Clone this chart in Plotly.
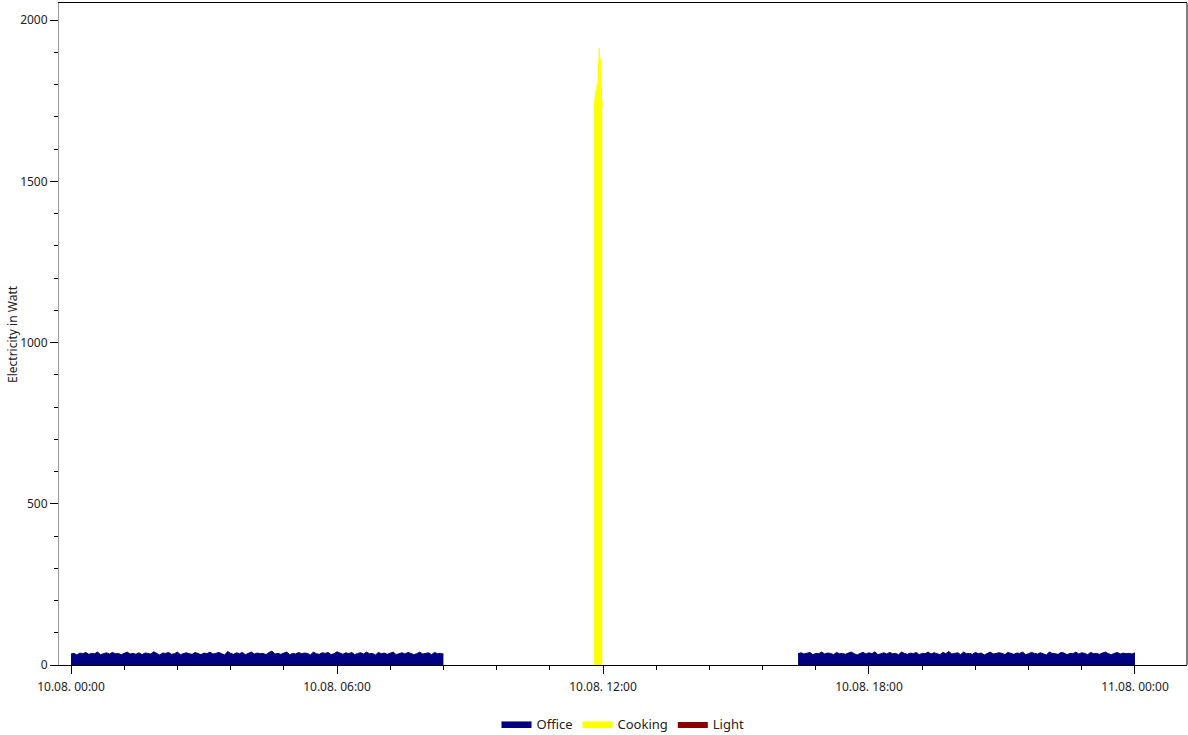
import pandas as pd
import plotly.graph_objects as go

# ---------------- data ----------------
office_block1_start = "2023-08-10 00:00"
office_block1_values = [
    34, 36, 31, 37, 35, 39, 33, 36, 35, 40, 32, 36, 38, 34, 39, 35,
    36, 32, 37, 40, 34, 36, 33, 38, 32, 37, 36, 34, 41, 35, 31, 37,
    36, 39, 33, 35, 40, 32, 36, 38, 35, 33, 39, 36, 32, 37, 35, 40,
    34, 36, 39, 35, 31, 42, 36, 33, 38, 35, 39, 32, 36, 40, 34, 37,
    35, 36, 32, 39, 43, 34, 36, 33, 37, 40, 32, 36, 34, 39, 35, 37,
    36, 31, 40, 35, 33, 38, 36, 39, 32, 35, 41, 36, 33, 38, 35, 39,
    32, 36, 38, 34, 40, 35, 36, 31, 39, 35, 37, 33, 36, 40, 32, 35,
    38, 34, 39, 36, 32, 35, 40, 34, 36, 38, 32, 39, 35, 36, 34,
]
office_block2_start = "2023-08-10 16:24"
office_block2_values = [
    35, 38, 34, 36, 39, 32, 36, 35, 40, 34, 37, 36, 32, 39, 35, 36,
    33, 37, 40, 35, 31, 36, 39, 34, 38, 35, 41, 32, 36, 38, 34, 39,
    35, 36, 32, 40, 36, 33, 37, 35, 39, 32, 36, 35, 40, 34, 38, 36,
    32, 39, 35, 42, 34, 36, 38, 32, 40, 35, 36, 33, 39, 35, 37, 31,
    36, 40, 34, 35, 38, 36, 32, 39, 35, 33, 37, 36, 40, 32, 35, 39,
    36, 34, 38, 35, 31, 40, 36, 35, 33, 39, 37, 32, 36, 35, 40, 34,
    38, 36, 32, 39, 35, 36, 33, 37, 40, 35, 32, 36, 39, 34, 37,
    35, 36, 34, 38,
]
office_step = "4min"

cooking_start = "2023-08-10 11:48"
cooking_values = [1720, 1750, 1780, 1760, 1800, 1790, 1840, 1913, 1700, 1880, 1760, 1730]
cooking_step = "1min"

light_times = ["2023-08-10 00:00", "2023-08-11 00:00"]
light_values = [0, 0]

x_range = ["2023-08-09 23:43:45", "2023-08-11 01:10:24"]
y_range = [0, 2053]

series_names = ["Office", "Cooking", "Light"]
series_colors = ["#000080", "#FFFF00", "#8B0000"]

# ---------------- build series ----------------
t1 = pd.date_range(office_block1_start, periods=len(office_block1_values), freq=office_step)
t2 = pd.date_range(office_block2_start, periods=len(office_block2_values), freq=office_step)
tc = pd.date_range(cooking_start, periods=len(cooking_values), freq=cooking_step)

font_family = "Noto Sans, Open Sans, DejaVu Sans, sans-serif"

fig = go.Figure()
fig.add_trace(go.Scatter(
    x=list(t1), y=office_block1_values, name=series_names[0], mode="lines",
    line=dict(color=series_colors[0], width=1), fill="tozeroy",
    fillcolor=series_colors[0], legendgroup="office",
))
fig.add_trace(go.Scatter(
    x=list(t2), y=office_block2_values, name=series_names[0], mode="lines",
    line=dict(color=series_colors[0], width=1), fill="tozeroy",
    fillcolor=series_colors[0], legendgroup="office", showlegend=False,
))
fig.add_trace(go.Scatter(
    x=list(tc), y=cooking_values, name=series_names[1], mode="lines",
    line=dict(color=series_colors[1], width=1), fill="tozeroy",
    fillcolor=series_colors[1],
))
fig.add_trace(go.Scatter(
    x=light_times, y=light_values, name=series_names[2], mode="lines",
    line=dict(color=series_colors[2], width=0), fill="tozeroy",
    fillcolor=series_colors[2],
))

plot_h = 735 - 3 - 70
fig.update_layout(
    width=1188, height=735,
    margin=dict(l=59, r=1, t=3, b=70, autoexpand=False),
    paper_bgcolor="white", plot_bgcolor="white",
    font=dict(family=font_family, size=12, color="#222222"),
    showlegend=True,
    legend=dict(
        orientation="h", x=0.5, xanchor="center",
        y=(665 - 724) / plot_h, yanchor="middle",
        font=dict(size=13, color="#222222"), itemwidth=30,
        bgcolor="rgba(0,0,0,0)",
    ),
    xaxis=dict(
        type="date", range=x_range, automargin=False,
        tick0="2023-08-10 00:00", dtick=6 * 3600 * 1000,
        tickformat="%d.%m. %H:%M",
        ticks="outside", ticklen=8, tickcolor="black", tickwidth=1,
        ticklabelstandoff=3,
        minor=dict(ticks="outside", ticklen=4, tickcolor="black",
                   tick0="2023-08-10 00:00", dtick=72 * 60 * 1000),
        showline=True, linecolor="black", linewidth=1, mirror=True,
        showgrid=False, zeroline=False,
        tickfont=dict(size=12, color="#222222"),
    ),
    yaxis=dict(
        range=y_range, tick0=0, dtick=500, automargin=False,
        ticks="outside", ticklen=8, tickcolor="black", tickwidth=1,
        minor=dict(ticks="outside", ticklen=4, tickcolor="black", dtick=100),
        showline=True, linecolor="#999999", linewidth=1,
        showgrid=False, zeroline=False,
        tickfont=dict(size=12, color="#222222"),
    ),
    shapes=[dict(type="line", xref="paper", yref="paper", x0=1, x1=1, y0=0, y1=1,
                 line=dict(color="black", width=1))],
    annotations=[dict(
        text="Electricity in Watt", xref="paper", yref="paper",
        x=(12 - 59) / 1128, y=0.5, xanchor="center", yanchor="middle",
        textangle=-90, showarrow=False, font=dict(size=12, color="#222222"),
    )],
)

fig.write_html(
    "out.html",
    config={"displayModeBar": False},
    post_script="document.body.style.margin='0';document.body.style.overflow='hidden';",
)
